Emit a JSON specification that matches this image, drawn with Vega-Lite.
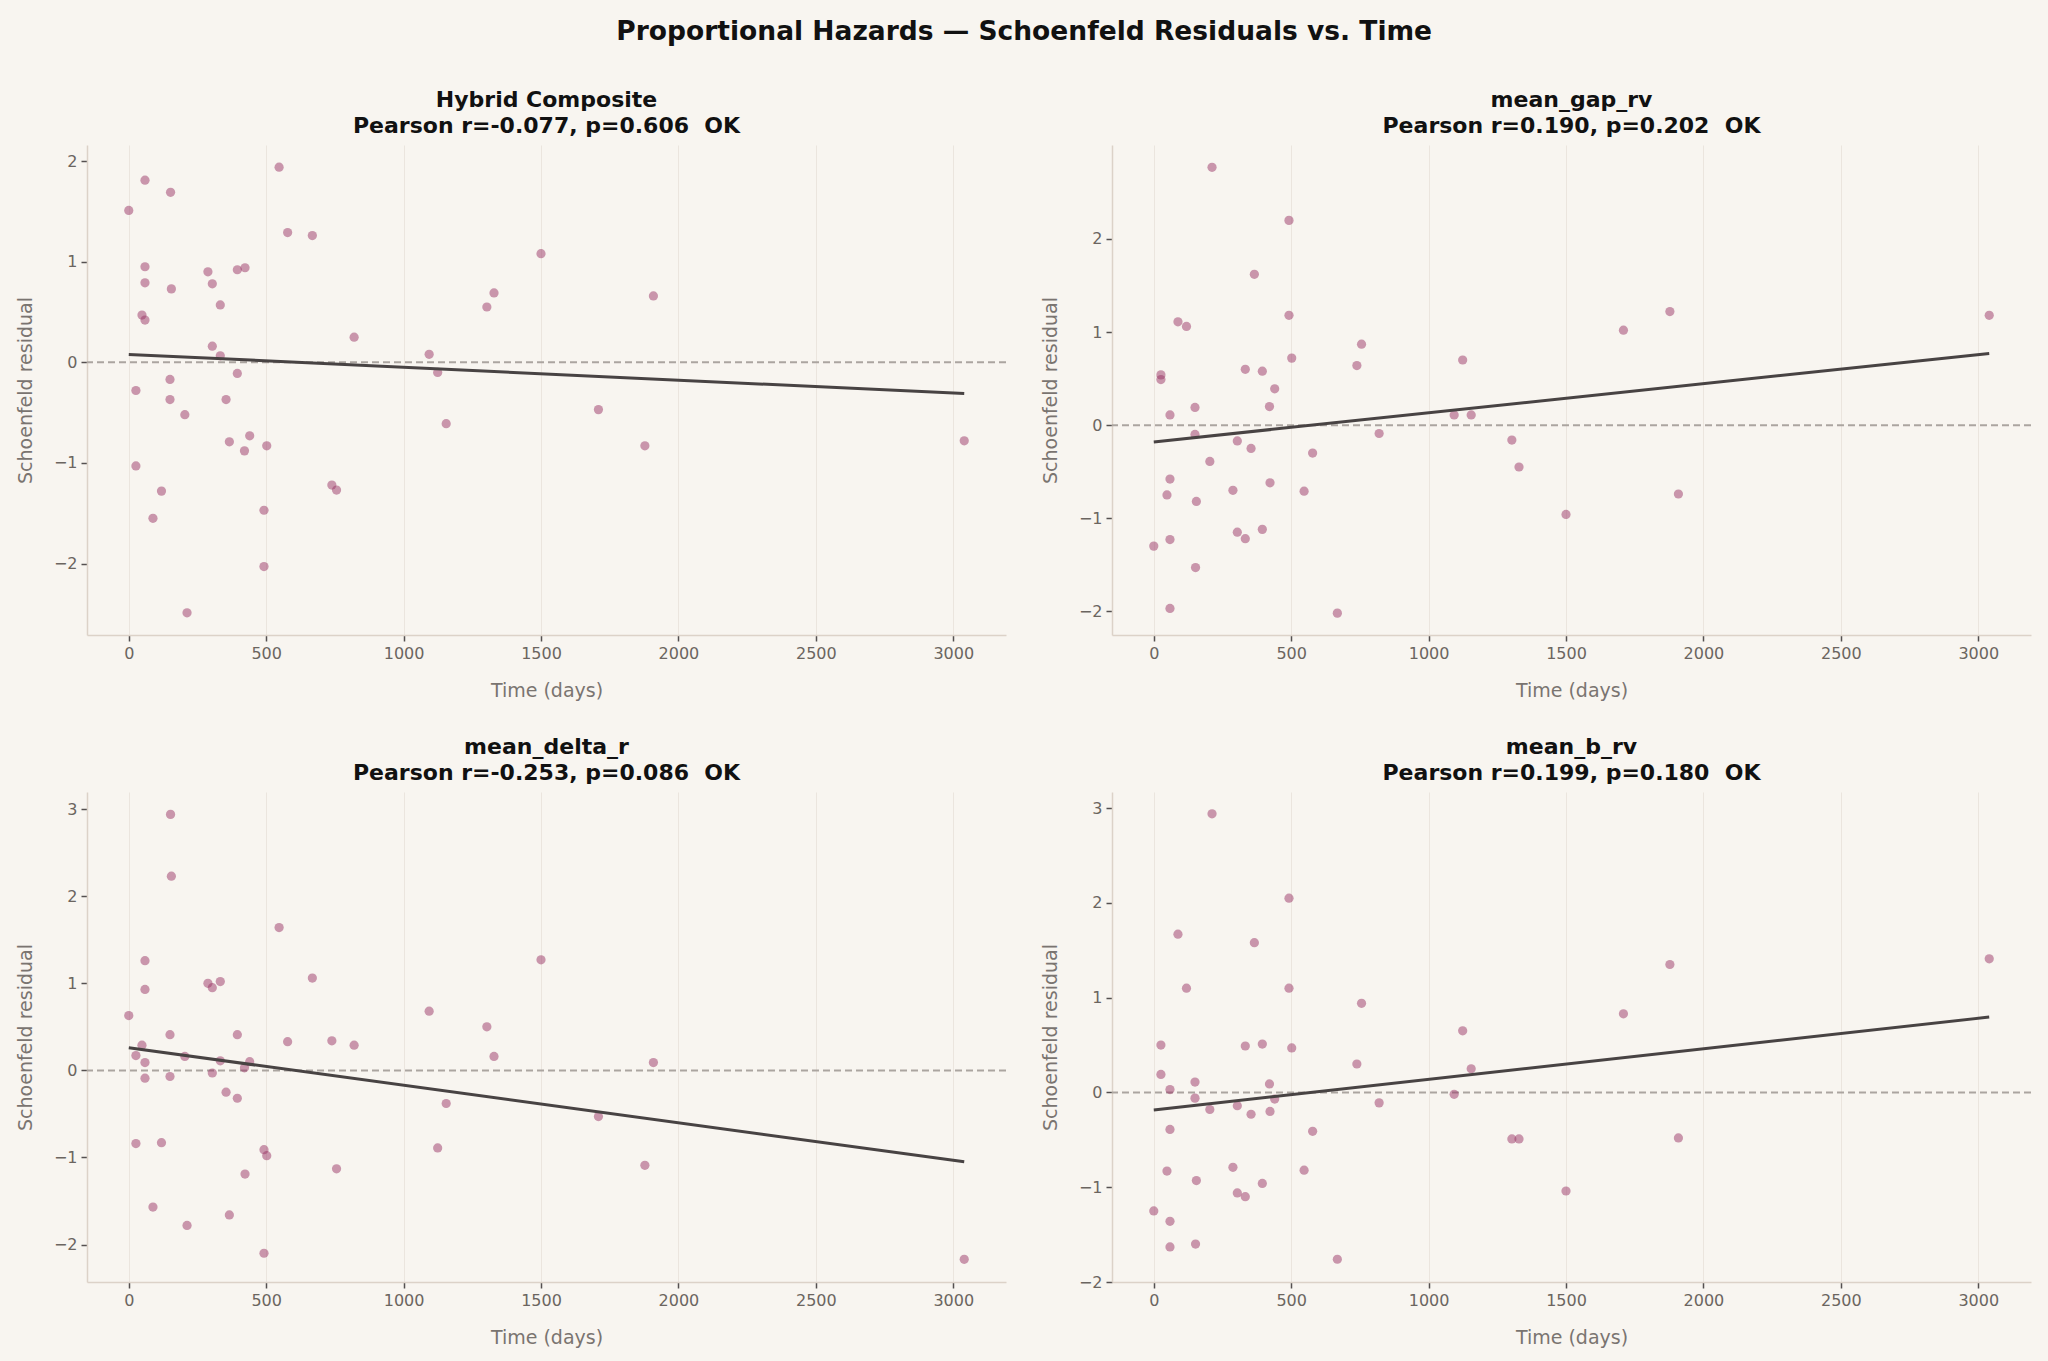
{
  "$schema": "https://vega.github.io/schema/vega-lite/v6.json",
  "background": "#f8f5f0",
  "padding": {"left": 16, "right": 18, "top": 18, "bottom": 14},
  "title": {
    "text": "Proportional Hazards — Schoenfeld Residuals vs. Time",
    "fontSize": 26.5,
    "font": "DejaVu Sans",
    "fontWeight": "bold",
    "color": "#111111",
    "anchor": "middle",
    "offset": 44
  },
  "datasets": {
    "residuals": [
      {"panel": "Hybrid Composite", "time": 0, "resid": 1.51},
      {"panel": "Hybrid Composite", "time": 59, "resid": 1.81},
      {"panel": "Hybrid Composite", "time": 152, "resid": 1.69},
      {"panel": "Hybrid Composite", "time": 547, "resid": 1.94},
      {"panel": "Hybrid Composite", "time": 578, "resid": 1.29},
      {"panel": "Hybrid Composite", "time": 668, "resid": 1.26},
      {"panel": "Hybrid Composite", "time": 1500, "resid": 1.08},
      {"panel": "Hybrid Composite", "time": 59, "resid": 0.95},
      {"panel": "Hybrid Composite", "time": 59, "resid": 0.79},
      {"panel": "Hybrid Composite", "time": 155, "resid": 0.73},
      {"panel": "Hybrid Composite", "time": 288, "resid": 0.9},
      {"panel": "Hybrid Composite", "time": 304, "resid": 0.78},
      {"panel": "Hybrid Composite", "time": 395, "resid": 0.92},
      {"panel": "Hybrid Composite", "time": 423, "resid": 0.94},
      {"panel": "Hybrid Composite", "time": 333, "resid": 0.57},
      {"panel": "Hybrid Composite", "time": 48, "resid": 0.47},
      {"panel": "Hybrid Composite", "time": 59, "resid": 0.42},
      {"panel": "Hybrid Composite", "time": 304, "resid": 0.16},
      {"panel": "Hybrid Composite", "time": 333, "resid": 0.065},
      {"panel": "Hybrid Composite", "time": 820, "resid": 0.25},
      {"panel": "Hybrid Composite", "time": 1093, "resid": 0.08},
      {"panel": "Hybrid Composite", "time": 1124, "resid": -0.1},
      {"panel": "Hybrid Composite", "time": 1303, "resid": 0.55},
      {"panel": "Hybrid Composite", "time": 1329, "resid": 0.69},
      {"panel": "Hybrid Composite", "time": 1909, "resid": 0.66},
      {"panel": "Hybrid Composite", "time": 1709, "resid": -0.47},
      {"panel": "Hybrid Composite", "time": 1878, "resid": -0.83},
      {"panel": "Hybrid Composite", "time": 3040, "resid": -0.78},
      {"panel": "Hybrid Composite", "time": 1155, "resid": -0.61},
      {"panel": "Hybrid Composite", "time": 26, "resid": -0.28},
      {"panel": "Hybrid Composite", "time": 150, "resid": -0.17},
      {"panel": "Hybrid Composite", "time": 150, "resid": -0.37},
      {"panel": "Hybrid Composite", "time": 204, "resid": -0.52},
      {"panel": "Hybrid Composite", "time": 395, "resid": -0.11},
      {"panel": "Hybrid Composite", "time": 354, "resid": -0.37},
      {"panel": "Hybrid Composite", "time": 366, "resid": -0.79},
      {"panel": "Hybrid Composite", "time": 440, "resid": -0.73},
      {"panel": "Hybrid Composite", "time": 421, "resid": -0.88},
      {"panel": "Hybrid Composite", "time": 502, "resid": -0.83},
      {"panel": "Hybrid Composite", "time": 26, "resid": -1.03},
      {"panel": "Hybrid Composite", "time": 119, "resid": -1.28},
      {"panel": "Hybrid Composite", "time": 88, "resid": -1.55},
      {"panel": "Hybrid Composite", "time": 739, "resid": -1.22},
      {"panel": "Hybrid Composite", "time": 756, "resid": -1.27},
      {"panel": "Hybrid Composite", "time": 492, "resid": -1.47},
      {"panel": "Hybrid Composite", "time": 492, "resid": -2.03},
      {"panel": "Hybrid Composite", "time": 212, "resid": -2.49},

      {"panel": "mean_gap_rv", "time": 212, "resid": 2.77},
      {"panel": "mean_gap_rv", "time": 492, "resid": 2.2},
      {"panel": "mean_gap_rv", "time": 366, "resid": 1.62},
      {"panel": "mean_gap_rv", "time": 492, "resid": 1.18},
      {"panel": "mean_gap_rv", "time": 88, "resid": 1.11},
      {"panel": "mean_gap_rv", "time": 119, "resid": 1.06},
      {"panel": "mean_gap_rv", "time": 756, "resid": 0.87},
      {"panel": "mean_gap_rv", "time": 502, "resid": 0.72},
      {"panel": "mean_gap_rv", "time": 739, "resid": 0.64},
      {"panel": "mean_gap_rv", "time": 1124, "resid": 0.7},
      {"panel": "mean_gap_rv", "time": 1709, "resid": 1.02},
      {"panel": "mean_gap_rv", "time": 1878, "resid": 1.22},
      {"panel": "mean_gap_rv", "time": 3040, "resid": 1.18},
      {"panel": "mean_gap_rv", "time": 26, "resid": 0.54},
      {"panel": "mean_gap_rv", "time": 26, "resid": 0.49},
      {"panel": "mean_gap_rv", "time": 333, "resid": 0.6},
      {"panel": "mean_gap_rv", "time": 395, "resid": 0.58},
      {"panel": "mean_gap_rv", "time": 440, "resid": 0.39},
      {"panel": "mean_gap_rv", "time": 421, "resid": 0.2},
      {"panel": "mean_gap_rv", "time": 150, "resid": 0.19},
      {"panel": "mean_gap_rv", "time": 59, "resid": 0.11},
      {"panel": "mean_gap_rv", "time": 1093, "resid": 0.11},
      {"panel": "mean_gap_rv", "time": 1155, "resid": 0.11},
      {"panel": "mean_gap_rv", "time": 150, "resid": -0.1},
      {"panel": "mean_gap_rv", "time": 820, "resid": -0.09},
      {"panel": "mean_gap_rv", "time": 304, "resid": -0.17},
      {"panel": "mean_gap_rv", "time": 354, "resid": -0.25},
      {"panel": "mean_gap_rv", "time": 1303, "resid": -0.16},
      {"panel": "mean_gap_rv", "time": 578, "resid": -0.3},
      {"panel": "mean_gap_rv", "time": 204, "resid": -0.39},
      {"panel": "mean_gap_rv", "time": 1329, "resid": -0.45},
      {"panel": "mean_gap_rv", "time": 59, "resid": -0.58},
      {"panel": "mean_gap_rv", "time": 423, "resid": -0.62},
      {"panel": "mean_gap_rv", "time": 288, "resid": -0.7},
      {"panel": "mean_gap_rv", "time": 547, "resid": -0.71},
      {"panel": "mean_gap_rv", "time": 48, "resid": -0.75},
      {"panel": "mean_gap_rv", "time": 155, "resid": -0.82},
      {"panel": "mean_gap_rv", "time": 1909, "resid": -0.74},
      {"panel": "mean_gap_rv", "time": 1500, "resid": -0.96},
      {"panel": "mean_gap_rv", "time": 304, "resid": -1.15},
      {"panel": "mean_gap_rv", "time": 333, "resid": -1.22},
      {"panel": "mean_gap_rv", "time": 395, "resid": -1.12},
      {"panel": "mean_gap_rv", "time": 0, "resid": -1.3},
      {"panel": "mean_gap_rv", "time": 59, "resid": -1.23},
      {"panel": "mean_gap_rv", "time": 152, "resid": -1.53},
      {"panel": "mean_gap_rv", "time": 59, "resid": -1.97},
      {"panel": "mean_gap_rv", "time": 668, "resid": -2.02},

      {"panel": "mean_delta_r", "time": 152, "resid": 2.94},
      {"panel": "mean_delta_r", "time": 155, "resid": 2.23},
      {"panel": "mean_delta_r", "time": 547, "resid": 1.64},
      {"panel": "mean_delta_r", "time": 59, "resid": 1.26},
      {"panel": "mean_delta_r", "time": 1500, "resid": 1.27},
      {"panel": "mean_delta_r", "time": 668, "resid": 1.06},
      {"panel": "mean_delta_r", "time": 288, "resid": 1.0},
      {"panel": "mean_delta_r", "time": 333, "resid": 1.02},
      {"panel": "mean_delta_r", "time": 304, "resid": 0.95},
      {"panel": "mean_delta_r", "time": 59, "resid": 0.93},
      {"panel": "mean_delta_r", "time": 0, "resid": 0.63},
      {"panel": "mean_delta_r", "time": 1093, "resid": 0.68},
      {"panel": "mean_delta_r", "time": 1303, "resid": 0.5},
      {"panel": "mean_delta_r", "time": 150, "resid": 0.41},
      {"panel": "mean_delta_r", "time": 395, "resid": 0.41},
      {"panel": "mean_delta_r", "time": 578, "resid": 0.33},
      {"panel": "mean_delta_r", "time": 739, "resid": 0.34},
      {"panel": "mean_delta_r", "time": 820, "resid": 0.29},
      {"panel": "mean_delta_r", "time": 48, "resid": 0.29},
      {"panel": "mean_delta_r", "time": 26, "resid": 0.17},
      {"panel": "mean_delta_r", "time": 204, "resid": 0.16},
      {"panel": "mean_delta_r", "time": 59, "resid": 0.09},
      {"panel": "mean_delta_r", "time": 333, "resid": 0.11},
      {"panel": "mean_delta_r", "time": 440, "resid": 0.1},
      {"panel": "mean_delta_r", "time": 421, "resid": 0.03},
      {"panel": "mean_delta_r", "time": 1329, "resid": 0.16},
      {"panel": "mean_delta_r", "time": 1909, "resid": 0.09},
      {"panel": "mean_delta_r", "time": 304, "resid": -0.03},
      {"panel": "mean_delta_r", "time": 59, "resid": -0.09},
      {"panel": "mean_delta_r", "time": 150, "resid": -0.07},
      {"panel": "mean_delta_r", "time": 354, "resid": -0.25},
      {"panel": "mean_delta_r", "time": 395, "resid": -0.32},
      {"panel": "mean_delta_r", "time": 1155, "resid": -0.38},
      {"panel": "mean_delta_r", "time": 1709, "resid": -0.53},
      {"panel": "mean_delta_r", "time": 26, "resid": -0.84},
      {"panel": "mean_delta_r", "time": 119, "resid": -0.83},
      {"panel": "mean_delta_r", "time": 492, "resid": -0.91},
      {"panel": "mean_delta_r", "time": 502, "resid": -0.98},
      {"panel": "mean_delta_r", "time": 1124, "resid": -0.89},
      {"panel": "mean_delta_r", "time": 1878, "resid": -1.09},
      {"panel": "mean_delta_r", "time": 756, "resid": -1.13},
      {"panel": "mean_delta_r", "time": 423, "resid": -1.19},
      {"panel": "mean_delta_r", "time": 88, "resid": -1.57},
      {"panel": "mean_delta_r", "time": 366, "resid": -1.66},
      {"panel": "mean_delta_r", "time": 212, "resid": -1.78},
      {"panel": "mean_delta_r", "time": 492, "resid": -2.1},
      {"panel": "mean_delta_r", "time": 3040, "resid": -2.17},

      {"panel": "mean_b_rv", "time": 212, "resid": 2.94},
      {"panel": "mean_b_rv", "time": 492, "resid": 2.05},
      {"panel": "mean_b_rv", "time": 88, "resid": 1.67},
      {"panel": "mean_b_rv", "time": 366, "resid": 1.58},
      {"panel": "mean_b_rv", "time": 119, "resid": 1.1},
      {"panel": "mean_b_rv", "time": 492, "resid": 1.1},
      {"panel": "mean_b_rv", "time": 756, "resid": 0.94},
      {"panel": "mean_b_rv", "time": 1878, "resid": 1.35},
      {"panel": "mean_b_rv", "time": 3040, "resid": 1.41},
      {"panel": "mean_b_rv", "time": 1709, "resid": 0.83},
      {"panel": "mean_b_rv", "time": 1124, "resid": 0.65},
      {"panel": "mean_b_rv", "time": 26, "resid": 0.5},
      {"panel": "mean_b_rv", "time": 333, "resid": 0.49},
      {"panel": "mean_b_rv", "time": 395, "resid": 0.51},
      {"panel": "mean_b_rv", "time": 502, "resid": 0.47},
      {"panel": "mean_b_rv", "time": 739, "resid": 0.3},
      {"panel": "mean_b_rv", "time": 1155, "resid": 0.25},
      {"panel": "mean_b_rv", "time": 26, "resid": 0.19},
      {"panel": "mean_b_rv", "time": 150, "resid": 0.11},
      {"panel": "mean_b_rv", "time": 421, "resid": 0.09},
      {"panel": "mean_b_rv", "time": 59, "resid": 0.03},
      {"panel": "mean_b_rv", "time": 150, "resid": -0.06},
      {"panel": "mean_b_rv", "time": 1093, "resid": -0.02},
      {"panel": "mean_b_rv", "time": 440, "resid": -0.07},
      {"panel": "mean_b_rv", "time": 820, "resid": -0.11},
      {"panel": "mean_b_rv", "time": 204, "resid": -0.18},
      {"panel": "mean_b_rv", "time": 304, "resid": -0.14},
      {"panel": "mean_b_rv", "time": 354, "resid": -0.23},
      {"panel": "mean_b_rv", "time": 423, "resid": -0.2},
      {"panel": "mean_b_rv", "time": 59, "resid": -0.39},
      {"panel": "mean_b_rv", "time": 578, "resid": -0.41},
      {"panel": "mean_b_rv", "time": 1303, "resid": -0.49},
      {"panel": "mean_b_rv", "time": 1329, "resid": -0.49},
      {"panel": "mean_b_rv", "time": 1909, "resid": -0.48},
      {"panel": "mean_b_rv", "time": 48, "resid": -0.83},
      {"panel": "mean_b_rv", "time": 288, "resid": -0.79},
      {"panel": "mean_b_rv", "time": 547, "resid": -0.82},
      {"panel": "mean_b_rv", "time": 155, "resid": -0.93},
      {"panel": "mean_b_rv", "time": 395, "resid": -0.96},
      {"panel": "mean_b_rv", "time": 304, "resid": -1.06},
      {"panel": "mean_b_rv", "time": 333, "resid": -1.1},
      {"panel": "mean_b_rv", "time": 1500, "resid": -1.04},
      {"panel": "mean_b_rv", "time": 0, "resid": -1.25},
      {"panel": "mean_b_rv", "time": 59, "resid": -1.36},
      {"panel": "mean_b_rv", "time": 59, "resid": -1.63},
      {"panel": "mean_b_rv", "time": 152, "resid": -1.6},
      {"panel": "mean_b_rv", "time": 668, "resid": -1.76}
    ],
    "trend": [
      {"panel": "Hybrid Composite", "time": 0, "fit": 0.079},
      {"panel": "Hybrid Composite", "time": 3040, "fit": -0.31},
      {"panel": "mean_gap_rv", "time": 0, "fit": -0.18},
      {"panel": "mean_gap_rv", "time": 3040, "fit": 0.77},
      {"panel": "mean_delta_r", "time": 0, "fit": 0.26},
      {"panel": "mean_delta_r", "time": 3040, "fit": -1.05},
      {"panel": "mean_b_rv", "time": 0, "fit": -0.185},
      {"panel": "mean_b_rv", "time": 3040, "fit": 0.795}
    ]
  },
  "columns": 2,
  "spacing": {"row": 36, "column": 34},
  "concat": [
    {
      "title": {"text": ["Hybrid Composite", "Pearson r=-0.077, p=0.606\u00a0\u00a0OK"]},
      "width": 919,
      "height": 490,
      "encoding": {
        "x": {"type": "quantitative", "scale": {"domain": [-152, 3192], "nice": false, "zero": false}, "axis": {"title": "Time (days)", "values": [0, 500, 1000, 1500, 2000, 2500, 3000], "format": "d"}},
        "y": {"type": "quantitative", "scale": {"domain": [-2.71, 2.16], "nice": false, "zero": false}, "axis": {"title": "Schoenfeld residual", "values": [-2, -1, 0, 1, 2], "format": "d"}}
      },
      "layer": [
        {"data": {"values": [{}]}, "mark": {"type": "rule", "color": "#aba5a0", "strokeWidth": 2, "strokeDash": [7, 4]}, "encoding": {"y": {"datum": 0}}},
        {"data": {"name": "residuals"}, "transform": [{"filter": "datum.panel === 'Hybrid Composite'"}], "mark": {"type": "circle", "size": 85, "color": "#9a3566", "opacity": 0.5}, "encoding": {"x": {"field": "time"}, "y": {"field": "resid"}}},
        {"data": {"name": "trend"}, "transform": [{"filter": "datum.panel === 'Hybrid Composite'"}], "mark": {"type": "line", "color": "#484343", "strokeWidth": 3}, "encoding": {"x": {"field": "time"}, "y": {"field": "fit"}}}
      ]
    },
    {
      "title": {"text": ["mean_gap_rv", "Pearson r=0.190, p=0.202\u00a0\u00a0OK"]},
      "width": 919,
      "height": 490,
      "encoding": {
        "x": {"type": "quantitative", "scale": {"domain": [-152, 3192], "nice": false, "zero": false}, "axis": {"title": "Time (days)", "values": [0, 500, 1000, 1500, 2000, 2500, 3000], "format": "d"}},
        "y": {"type": "quantitative", "scale": {"domain": [-2.255, 3.01], "nice": false, "zero": false}, "axis": {"title": "Schoenfeld residual", "values": [-2, -1, 0, 1, 2], "format": "d"}}
      },
      "layer": [
        {"data": {"values": [{}]}, "mark": {"type": "rule", "color": "#aba5a0", "strokeWidth": 2, "strokeDash": [7, 4]}, "encoding": {"y": {"datum": 0}}},
        {"data": {"name": "residuals"}, "transform": [{"filter": "datum.panel === 'mean_gap_rv'"}], "mark": {"type": "circle", "size": 85, "color": "#9a3566", "opacity": 0.5}, "encoding": {"x": {"field": "time"}, "y": {"field": "resid"}}},
        {"data": {"name": "trend"}, "transform": [{"filter": "datum.panel === 'mean_gap_rv'"}], "mark": {"type": "line", "color": "#484343", "strokeWidth": 3}, "encoding": {"x": {"field": "time"}, "y": {"field": "fit"}}}
      ]
    },
    {
      "title": {"text": ["mean_delta_r", "Pearson r=-0.253, p=0.086\u00a0\u00a0OK"]},
      "width": 919,
      "height": 490,
      "encoding": {
        "x": {"type": "quantitative", "scale": {"domain": [-152, 3192], "nice": false, "zero": false}, "axis": {"title": "Time (days)", "values": [0, 500, 1000, 1500, 2000, 2500, 3000], "format": "d"}},
        "y": {"type": "quantitative", "scale": {"domain": [-2.43, 3.197], "nice": false, "zero": false}, "axis": {"title": "Schoenfeld residual", "values": [-2, -1, 0, 1, 2, 3], "format": "d"}}
      },
      "layer": [
        {"data": {"values": [{}]}, "mark": {"type": "rule", "color": "#aba5a0", "strokeWidth": 2, "strokeDash": [7, 4]}, "encoding": {"y": {"datum": 0}}},
        {"data": {"name": "residuals"}, "transform": [{"filter": "datum.panel === 'mean_delta_r'"}], "mark": {"type": "circle", "size": 85, "color": "#9a3566", "opacity": 0.5}, "encoding": {"x": {"field": "time"}, "y": {"field": "resid"}}},
        {"data": {"name": "trend"}, "transform": [{"filter": "datum.panel === 'mean_delta_r'"}], "mark": {"type": "line", "color": "#484343", "strokeWidth": 3}, "encoding": {"x": {"field": "time"}, "y": {"field": "fit"}}}
      ]
    },
    {
      "title": {"text": ["mean_b_rv", "Pearson r=0.199, p=0.180\u00a0\u00a0OK"]},
      "width": 919,
      "height": 490,
      "encoding": {
        "x": {"type": "quantitative", "scale": {"domain": [-152, 3192], "nice": false, "zero": false}, "axis": {"title": "Time (days)", "values": [0, 500, 1000, 1500, 2000, 2500, 3000], "format": "d"}},
        "y": {"type": "quantitative", "scale": {"domain": [-2.0, 3.17], "nice": false, "zero": false}, "axis": {"title": "Schoenfeld residual", "values": [-2, -1, 0, 1, 2, 3], "format": "d"}}
      },
      "layer": [
        {"data": {"values": [{}]}, "mark": {"type": "rule", "color": "#aba5a0", "strokeWidth": 2, "strokeDash": [7, 4]}, "encoding": {"y": {"datum": 0}}},
        {"data": {"name": "residuals"}, "transform": [{"filter": "datum.panel === 'mean_b_rv'"}], "mark": {"type": "circle", "size": 85, "color": "#9a3566", "opacity": 0.5}, "encoding": {"x": {"field": "time"}, "y": {"field": "resid"}}},
        {"data": {"name": "trend"}, "transform": [{"filter": "datum.panel === 'mean_b_rv'"}], "mark": {"type": "line", "color": "#484343", "strokeWidth": 3}, "encoding": {"x": {"field": "time"}, "y": {"field": "fit"}}}
      ]
    }
  ],
  "config": {
    "font": "DejaVu Sans",
    "view": {"stroke": null},
    "title": {"font": "DejaVu Sans", "fontSize": 22, "fontWeight": "bold", "color": "#111111", "lineHeight": 26, "offset": 7},
    "axis": {
      "labelFont": "DejaVu Sans",
      "titleFont": "DejaVu Sans",
      "labelFontSize": 16,
      "titleFontSize": 19,
      "labelColor": "#6b6560",
      "titleColor": "#7a7470",
      "titleFontWeight": "normal",
      "gridColor": "#ebe5de",
      "gridWidth": 1,
      "domainColor": "#dcd2c8",
      "domainWidth": 1.5,
      "tickColor": "#555050",
      "tickSize": 6,
      "tickWidth": 1.5,
      "labelPadding": 4,
      "titlePadding": 20
    },
    "axisY": {"titlePadding": 18}
  }
}
